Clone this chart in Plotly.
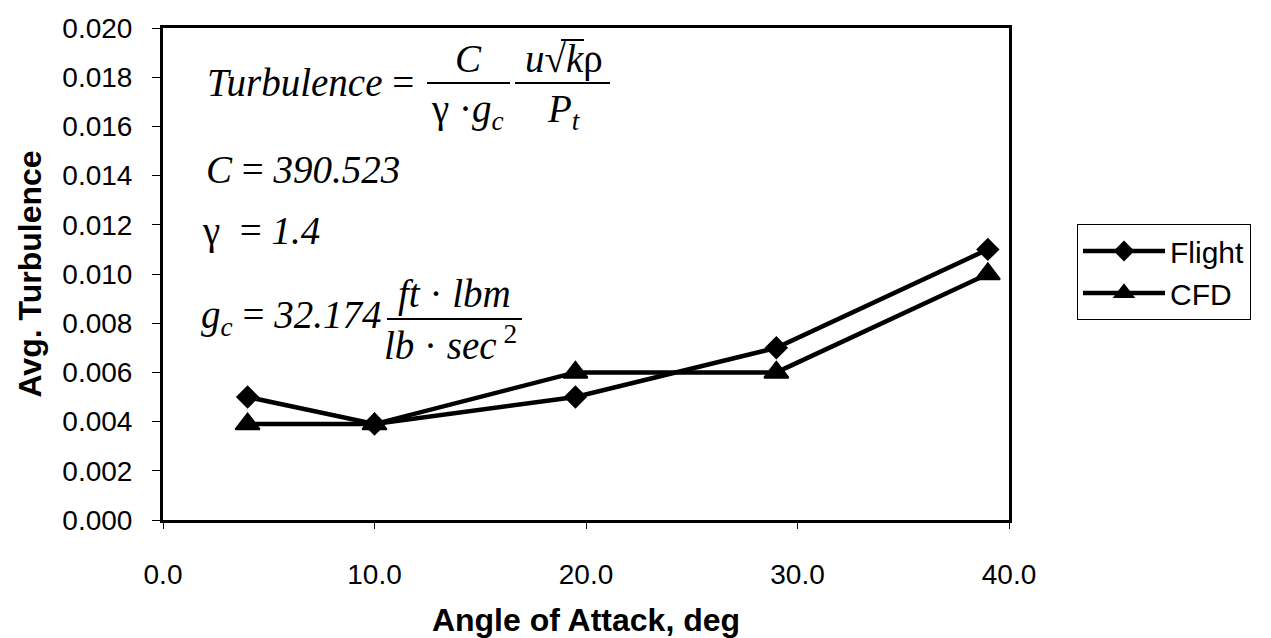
import plotly.graph_objects as go

# ---- data ----
angle_of_attack = [4.0, 10.0, 19.5, 29.0, 39.0]
flight_turb = [0.0050, 0.0039, 0.0050, 0.0070, 0.0110]
cfd_turb = [0.0039, 0.0039, 0.0060, 0.0060, 0.0100]
series_names = ["Flight", "CFD"]
x_ticks = [0, 10, 20, 30, 40]
y_ticks = [0.000, 0.002, 0.004, 0.006, 0.008, 0.010, 0.012, 0.014, 0.016, 0.018, 0.020]

# ---- layout geometry (pixels) ----
W_FIG, H_FIG = 1271, 638
L, R, T, B = 163, 1009, 28, 520
PW, PH = R - L, B - T


def px(x):
    return (x - L) / PW


def py(y):
    return (B - y) / PH


fig = go.Figure()
fig.add_trace(go.Scatter(
    x=angle_of_attack, y=flight_turb, name=series_names[0], mode="lines+markers",
    line=dict(color="black", width=4.5),
    marker=dict(symbol="diamond", size=18, color="black"),
))
fig.add_trace(go.Scatter(
    x=angle_of_attack, y=cfd_turb, name=series_names[1], mode="lines+markers",
    line=dict(color="black", width=4.5),
    marker=dict(symbol="triangle-up", size=21, color="black", line=dict(color="black", width=2)),
))

tick_font = dict(family="Liberation Sans, Arial", size=28, color="black")
title_font = dict(family="Liberation Sans, Arial", size=32, color="black")

fig.update_layout(
    width=W_FIG, height=H_FIG,
    margin=dict(l=L, r=W_FIG - R, t=T, b=H_FIG - B, autoexpand=False),
    paper_bgcolor="white", plot_bgcolor="white",
    showlegend=True,
    legend=dict(
        x=px(1077), y=py(224), xanchor="left", yanchor="top",
        bordercolor="black", borderwidth=1, bgcolor="white",
        font=dict(family="Liberation Sans, Arial", size=30, color="black"),
        tracegroupgap=0, itemwidth=82,
    ),
    xaxis=dict(
        range=[0, 40], tickvals=x_ticks, tickformat=".1f",
        showgrid=False, zeroline=False,
        showline=True, linecolor="black", linewidth=3, mirror=True,
        ticks="outside", ticklen=6, tickcolor="black", tickwidth=1,
        tickfont=tick_font, ticklabelstandoff=21,
        title=dict(text="<b>Angle of Attack, deg</b>", font=title_font, standoff=40),
    ),
    yaxis=dict(
        range=[0, 0.020], tickvals=y_ticks, tickformat=".3f",
        showgrid=False, zeroline=False,
        showline=True, linecolor="black", linewidth=3, mirror=True,
        ticks="outside", ticklen=8, tickcolor="black", tickwidth=1,
        tickfont=tick_font, ticklabelstandoff=14,
        title=dict(text="<b>Avg. Turbulence</b>", font=title_font, standoff=12),
    ),
)

# ---- equation annotations ----
eq_font = dict(family="Liberation Serif, Times New Roman", size=39, color="black")


def txt(x, y, text, anchor="left"):
    fig.add_annotation(x=px(x), y=py(y), xref="paper", yref="paper", text=text,
                       showarrow=False, xanchor=anchor, yanchor="middle", font=eq_font)


def bar(x0, x1, y):
    fig.add_shape(type="line", xref="paper", yref="paper",
                  x0=px(x0), x1=px(x1), y0=py(y), y1=py(y),
                  line=dict(color="black", width=2))


txt(205, 82, "<i>Turbulence</i> =")
txt(468, 59, "<i>C</i>", "center")
bar(427, 510, 83)
txt(467, 111, "γ ·<i>g<sub>c</sub></i>", "center")
txt(564, 59, "<i>u</i>√<i>k</i>ρ", "center")
bar(515, 610, 83)
bar(561, 584, 40)
txt(564, 111, "<i>P<sub>t</sub></i>", "center")
txt(204, 170, "<i>C</i> = <i>390.523</i>")
txt(200, 231, "γ  = <i>1.4</i>")
txt(199, 318, "<i>g<sub>c</sub></i> = <i>32.174</i>")
txt(454, 294, "<i>ft</i> · <i>lbm</i>", "center")
bar(387, 522, 319)
txt(450, 343, "<i>lb</i> · <i>sec</i><sup> 2</sup>", "center")

fig.write_html("out.html")
